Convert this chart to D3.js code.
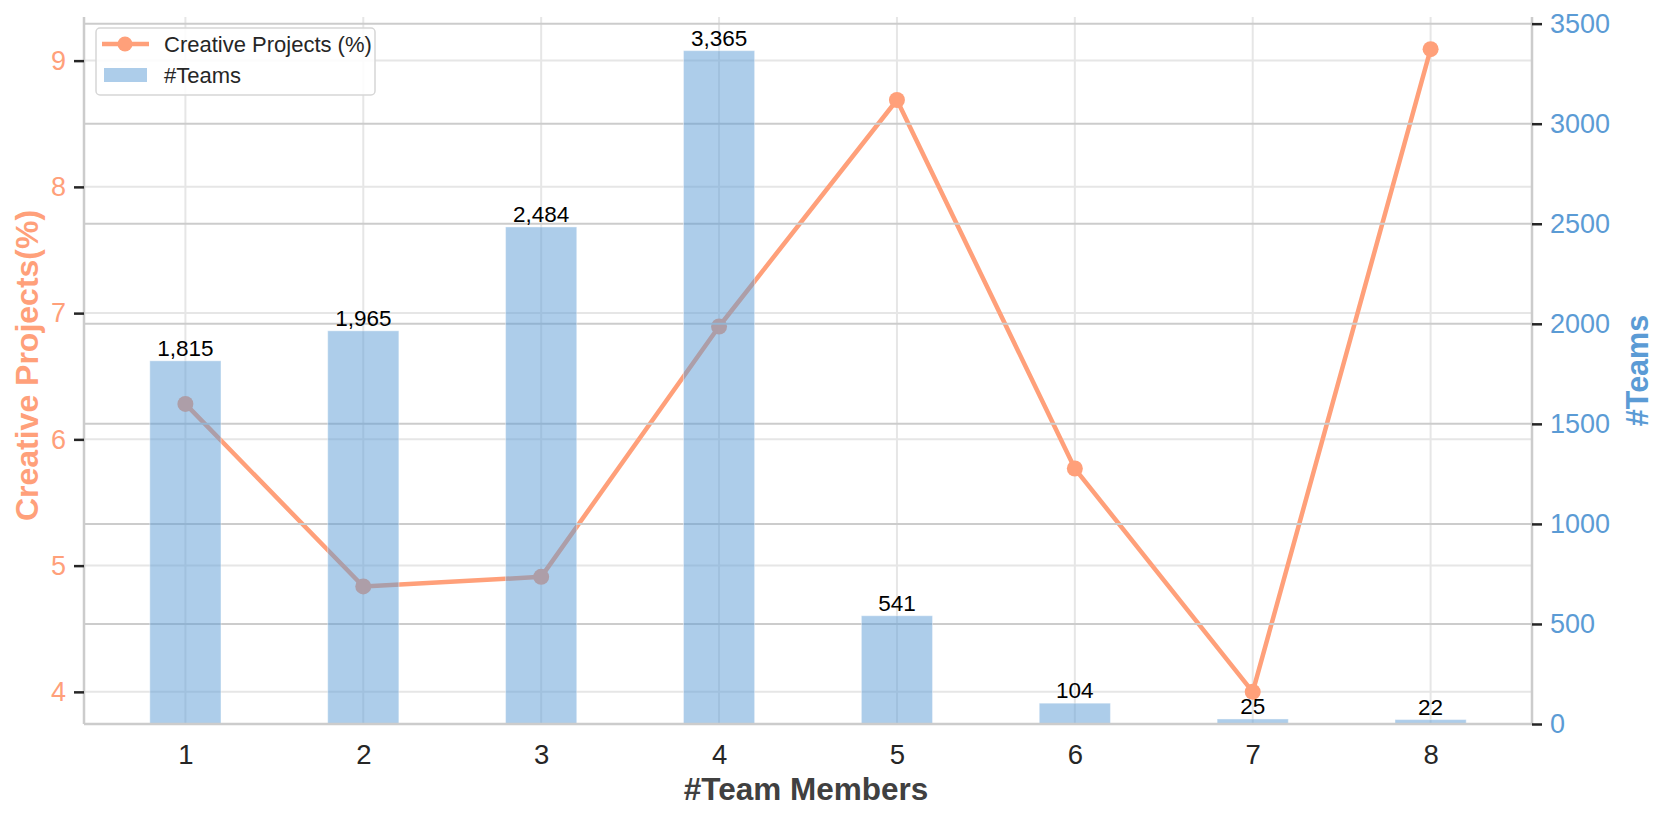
<!DOCTYPE html>
<html>
<head>
<meta charset="utf-8">
<script src="https://cdn.jsdelivr.net/npm/d3@7"></script>
<style>
  body { margin: 0; background: #fff; }
  svg text { font-family: "Liberation Sans", Arial, sans-serif; }
</style>
</head>
<body>
<svg id="chart" width="1661" height="818"></svg>
<script>
// data
var members = [1, 2, 3, 4, 5, 6, 7, 8];
var teams = [1815, 1965, 2484, 3365, 541, 104, 25, 22];
var creativePct = [6.281, 4.835, 4.911, 6.894, 8.688, 5.769, 4.0, 9.091];
var leftTicks = [4, 5, 6, 7, 8, 9];
var rightTicks = [0, 500, 1000, 1500, 2000, 2500, 3000, 3500];

var W = 1661, H = 818;
var margin = {left: 84, right: 129, top: 17, bottom: 94};
var pw = W - margin.left - margin.right;
var ph = H - margin.top - margin.bottom;

var salmon = "#ffa07a", blue = "#5b9bd5";
var barW = 0.4;

var svg = d3.select("#chart");
var g = svg.append("g").attr("transform", "translate(" + margin.left + "," + margin.top + ")");

// matplotlib-like 5% margins
var xMin = d3.min(members) - barW / 2, xMax = d3.max(members) + barW / 2;
var xPad = (xMax - xMin) * 0.05;
var xScale = d3.scaleLinear().domain([xMin - xPad, xMax + xPad]).range([0, pw]);

var lMin = d3.min(creativePct), lMax = d3.max(creativePct);
var lPad = (lMax - lMin) * 0.05;
var yLeft = d3.scaleLinear().domain([lMin - lPad, lMax + lPad]).range([ph, 0]);
var yRight = d3.scaleLinear().domain([0, d3.max(teams) * 1.05]).range([ph, 0]);

// left grid (light)
g.append("g").selectAll("line").data(leftTicks).enter().append("line")
  .attr("x1", 0).attr("x2", pw)
  .attr("y1", function (d) { return yLeft(d); })
  .attr("y2", function (d) { return yLeft(d); })
  .attr("stroke", "#e6e6e6").attr("stroke-width", 2);

// vertical grid
g.append("g").selectAll("line").data(members).enter().append("line")
  .attr("x1", function (d) { return xScale(d); })
  .attr("x2", function (d) { return xScale(d); })
  .attr("y1", 0).attr("y2", ph)
  .attr("stroke", "#e6e6e6").attr("stroke-width", 2);

// line series
var pts = members.map(function (m, i) { return [m, creativePct[i]]; });
var line = d3.line()
  .x(function (d) { return xScale(d[0]); })
  .y(function (d) { return yLeft(d[1]); });
g.append("path").datum(pts)
  .attr("d", line)
  .attr("fill", "none")
  .attr("stroke", salmon)
  .attr("stroke-width", 4.5)
  .attr("stroke-linejoin", "round");
g.append("g").selectAll("circle").data(pts).enter().append("circle")
  .attr("cx", function (d) { return xScale(d[0]); })
  .attr("cy", function (d) { return yLeft(d[1]); })
  .attr("r", 8)
  .attr("fill", salmon);

// right grid (darker)
g.append("g").selectAll("line").data(rightTicks).enter().append("line")
  .attr("x1", 0).attr("x2", pw)
  .attr("y1", function (d) { return yRight(d); })
  .attr("y2", function (d) { return yRight(d); })
  .attr("stroke", "#cccccc").attr("stroke-width", 2);

// bars
var bars = members.map(function (m, i) { return [m, teams[i]]; });
g.append("g").selectAll("rect").data(bars).enter().append("rect")
  .attr("x", function (d) { return xScale(d[0] - barW / 2); })
  .attr("width", xScale(barW) - xScale(0))
  .attr("y", function (d) { return yRight(d[1]); })
  .attr("height", function (d) { return ph - yRight(d[1]); })
  .attr("fill", blue)
  .attr("fill-opacity", 0.5)
  .attr("stroke", "#ffffff")
  .attr("stroke-opacity", 0.4)
  .attr("stroke-width", 1);

g.append("g").selectAll("text").data(bars).enter().append("text")
  .attr("x", function (d) { return xScale(d[0]); })
  .attr("y", function (d) { return yRight(d[1]) - 5; })
  .attr("text-anchor", "middle")
  .attr("font-size", 22.5)
  .attr("fill", "#000")
  .text(function (d) { return d3.format(",")(d[1]); });

// spines
var spine = "#cccccc";
g.append("line").attr("x1", 0).attr("x2", 0).attr("y1", 0).attr("y2", ph)
  .attr("stroke", spine).attr("stroke-width", 2.5);
g.append("line").attr("x1", pw).attr("x2", pw).attr("y1", 0).attr("y2", ph)
  .attr("stroke", spine).attr("stroke-width", 2.5);
g.append("line").attr("x1", 0).attr("x2", pw).attr("y1", ph).attr("y2", ph)
  .attr("stroke", spine).attr("stroke-width", 2.5);

// axes
var leftAxis = g.append("g")
  .call(d3.axisLeft(yLeft).tickValues(leftTicks).tickSize(10).tickPadding(8).tickFormat(d3.format("d")));
leftAxis.select(".domain").remove();
leftAxis.selectAll(".tick line").attr("stroke", "#262626").attr("stroke-width", 2.5);
leftAxis.selectAll(".tick text").attr("fill", salmon).attr("font-size", 27)
  .attr("font-family", "Liberation Sans, Arial, sans-serif");

var rightAxis = g.append("g").attr("transform", "translate(" + pw + ",0)")
  .call(d3.axisRight(yRight).tickValues(rightTicks).tickSize(10).tickPadding(8).tickFormat(d3.format("d")));
rightAxis.select(".domain").remove();
rightAxis.selectAll(".tick line").attr("stroke", "#262626").attr("stroke-width", 2.5);
rightAxis.selectAll(".tick text").attr("fill", blue).attr("font-size", 27)
  .attr("font-family", "Liberation Sans, Arial, sans-serif");

var bottomAxis = g.append("g").attr("transform", "translate(0," + ph + ")")
  .call(d3.axisBottom(xScale).tickValues(members).tickSize(0).tickPadding(20).tickFormat(d3.format("d")));
bottomAxis.select(".domain").remove();
bottomAxis.selectAll(".tick text").attr("fill", "#262626").attr("font-size", 27.5)
  .attr("font-family", "Liberation Sans, Arial, sans-serif");

// axis titles
svg.append("text")
  .attr("x", margin.left + pw / 2 - 2).attr("y", 800)
  .attr("text-anchor", "middle")
  .attr("font-size", 31.5).attr("font-weight", "bold").attr("fill", "#404040")
  .text("#Team Members");

svg.append("text")
  .attr("transform", "translate(38," + (margin.top + ph / 2 - 5) + ") rotate(-90)")
  .attr("text-anchor", "middle")
  .attr("font-size", 32).attr("font-weight", "bold").attr("fill", salmon)
  .text("Creative Projects(%)");

svg.append("text")
  .attr("transform", "translate(1648," + (margin.top + ph / 2) + ") rotate(-90)")
  .attr("text-anchor", "middle")
  .attr("font-size", 30.5).attr("font-weight", "bold").attr("fill", blue)
  .text("#Teams");

// legend
var lg = svg.append("g").attr("transform", "translate(96,28)");
lg.append("rect").attr("width", 279).attr("height", 67).attr("rx", 4)
  .attr("fill", "#fff").attr("fill-opacity", 0.85)
  .attr("stroke", "#d6d6d6").attr("stroke-width", 1.5);
lg.append("line").attr("x1", 6).attr("x2", 53).attr("y1", 16).attr("y2", 16)
  .attr("stroke", salmon).attr("stroke-width", 4.5);
lg.append("circle").attr("cx", 29).attr("cy", 16).attr("r", 7.5).attr("fill", salmon);
lg.append("text").attr("x", 68).attr("y", 24).attr("font-size", 22).attr("fill", "#262626")
  .text("Creative Projects (%)");
lg.append("rect").attr("x", 8).attr("y", 40).attr("width", 43).attr("height", 14)
  .attr("fill", blue).attr("fill-opacity", 0.5);
lg.append("text").attr("x", 68).attr("y", 55).attr("font-size", 22).attr("fill", "#262626")
  .text("#Teams");
</script>
</body>
</html>
